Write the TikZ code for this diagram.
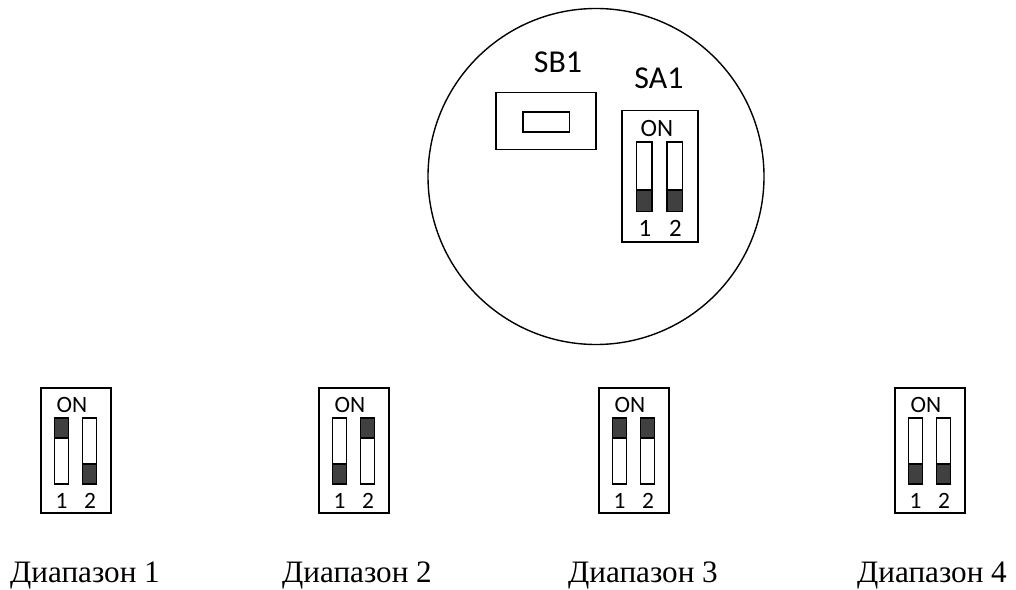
\documentclass[tikz,border=0pt]{standalone}
\usepackage{fontspec}
\setmainfont{Carlito}
\newfontfamily\rusfont{Liberation Serif}
\definecolor{knob}{HTML}{404040}
\tikzset{
  frame/.style={draw=black,line width=1.5pt,fill=white},
  slot/.style={draw=black,line width=1.4pt,fill=white},
  knobfill/.style={draw=black,line width=1.4pt,fill=knob},
  biglabel/.style={font=\fontsize{32}{32}\selectfont,inner sep=0pt},
  onlabel/.style={font=\fontsize{25}{25}\selectfont,inner sep=0pt},
  smalllabel/.style={font=\fontsize{23.5}{23.5}\selectfont,inner sep=0pt},
  rangelabel/.style={font=\rusfont\fontsize{31.3}{31.3}\selectfont,inner sep=0pt,anchor=base}
}
\newcommand{\smallswitch}[3]{%
  \begin{scope}[shift={(#1,0)}]
    \draw[frame] (0,388) rectangle (70,513);
    \node[smalllabel] at (31,405) {ON};
    \draw[slot] (13.5,418) rectangle (27.5,484);
    \draw[slot] (41.5,418) rectangle (55.5,484);
    \ifnum#2=1 \draw[knobfill] (13.5,418) rectangle (27.5,438);
    \else \draw[knobfill] (13.5,464) rectangle (27.5,484);\fi
    \ifnum#3=1 \draw[knobfill] (41.5,418) rectangle (55.5,438);
    \else \draw[knobfill] (41.5,464) rectangle (55.5,484);\fi
    \node[smalllabel] at (20.5,501) {1};
    \node[smalllabel] at (49,501) {2};
  \end{scope}}
\begin{document}
\begin{tikzpicture}[x=1bp,y=-1bp]
\useasboundingbox (0,0) rectangle (1016,590);
\draw[line width=1.4pt] (596,176.5) circle[radius=168];
\draw[frame] (496,92.5) rectangle (596,149.5);
\draw[line width=1.3pt] (523,112) rectangle (569.5,132);
\node[biglabel] at (558,62) {SB1};
\node[biglabel] at (659,78.5) {SA1};
\draw[frame] (622,110.5) rectangle (698,242);
\node[onlabel] at (657,129) {ON};
\draw[slot] (636.5,142) rectangle (652,211.5);
\draw[slot] (667,142) rectangle (682.5,211.5);
\draw[knobfill] (636.5,190) rectangle (652,211.5);
\draw[knobfill] (667,190) rectangle (682.5,211.5);
\node[onlabel] at (645,228) {1};
\node[onlabel] at (675.5,228) {2};
\smallswitch{41}{1}{0}
\smallswitch{319}{0}{1}
\smallswitch{599}{1}{1}
\smallswitch{895}{0}{0}
\node[rangelabel] at (85,582.5) {Диапазон 1};
\node[rangelabel] at (357,582.5) {Диапазон 2};
\node[rangelabel] at (643,582.5) {Диапазон 3};
\node[rangelabel] at (932,582.5) {Диапазон 4};
\end{tikzpicture}
\end{document}
